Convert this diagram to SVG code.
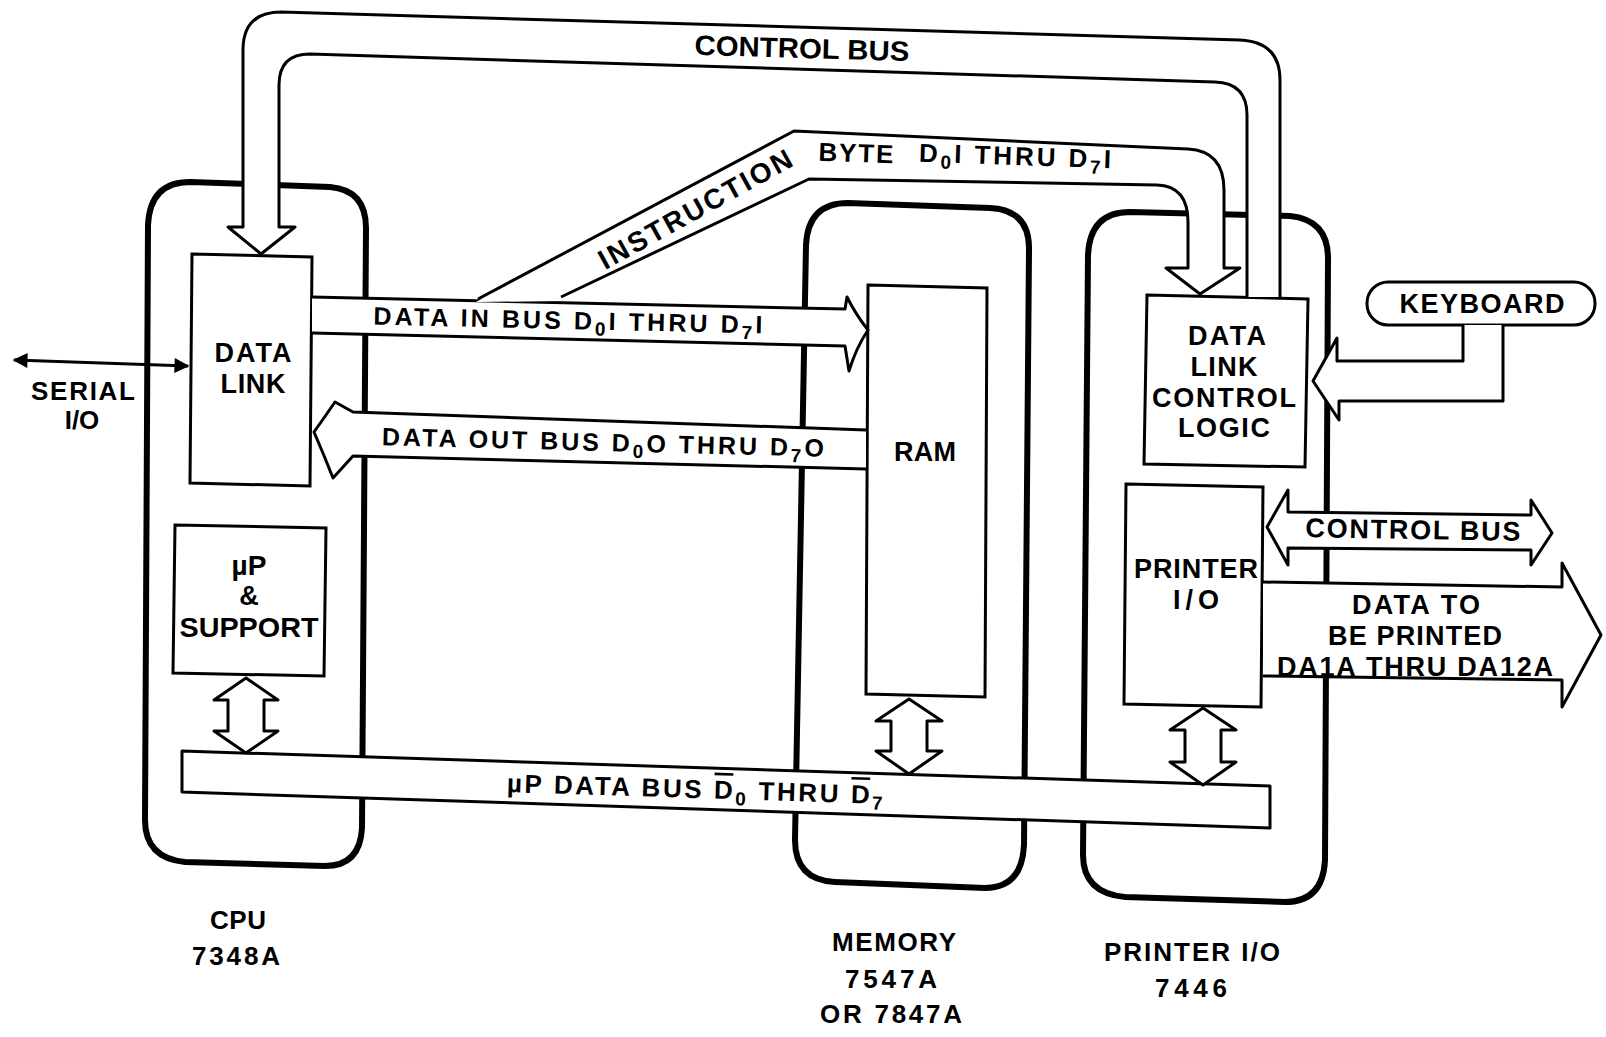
<svg xmlns="http://www.w3.org/2000/svg" width="1606" height="1037" viewBox="0 0 1606 1037">
<style>
.ob{fill:none;stroke:#000;stroke-width:6;stroke-linejoin:round}
.ib{fill:#fff;stroke:#000;stroke-width:3}
.bus{fill:#fff;stroke:#000;stroke-width:3;stroke-linejoin:round}
.nf{fill:#fff;stroke:none}
.ln{fill:none;stroke:#000;stroke-width:3;stroke-linejoin:round}
text{font-family:"Liberation Sans",Arial,sans-serif;font-weight:bold;font-size:27px;fill:#000;text-anchor:middle}
.sub{font-size:19px}
.m{font-size:26px}
.s{font-size:25px}
.l{font-size:28px}
</style>
<defs>
<marker id="ah" viewBox="0 0 10 10" refX="9" refY="5" markerWidth="7" markerHeight="5" orient="auto-start-reverse" markerUnits="strokeWidth"><path d="M0,0 L10,5 L0,10 z" fill="#000"/></marker>
</defs>
<rect width="1606" height="1037" fill="#fff"/>

<g id="cpu">
<path class="ob" d="M148,225 Q150,182 190,182 L330,187 Q366,190 366,228 L362,828 Q360,866 325,866 L185,862 Q145,858 145,820 Z"/>
<text class="m" x="238" y="929" textLength="56">CPU</text>
<text class="m" x="236" y="965" textLength="88">7348A</text>
</g>
<g id="memory">
<path class="ob" d="M806,245 Q808,203 848,203 L990,208 Q1030,210 1029,250 L1024,845 Q1022,888 985,888 L835,882 Q795,880 795,840 Z"/>
<text class="m" x="894" y="951" textLength="124">MEMORY</text>
<text class="m" x="891" y="988" textLength="92">7547A</text>
<text class="m" x="891" y="1023" textLength="142">OR 7847A</text>
</g>
<g id="printer">
<path class="ob" d="M1088,255 Q1090,212 1130,212 L1290,216 Q1328,220 1328,258 L1325,860 Q1323,902 1285,902 L1125,897 Q1083,893 1083,855 Z"/>
<text class="m" x="1192" y="961" textLength="176">PRINTER I/O</text>
<text class="m" x="1191" y="997" textLength="72">7446</text>
</g>
<g id="datalink">
<path class="ib" d="M192,254 L312,257 L310,486 L190,483 Z"/>
<text x="253" y="362" textLength="77">DATA</text>
<text x="253" y="393" textLength="65">LINK</text>
</g>
<g id="upsupport">
<path class="ib" d="M175,525 L326,528 L324,676 L173,673 Z"/>
<text class="l" x="249" y="575">µP</text>
<text x="249" y="605">&amp;</text>
<text class="l" x="249" y="637" textLength="139" lengthAdjust="spacingAndGlyphs">SUPPORT</text>
</g>
<g id="ram">
<path class="ib" d="M868,285 L987,288 L985,697 L866,694 Z"/>
<text x="925" y="461" textLength="62">RAM</text>
</g>
<g id="dlcl">
<path class="ib" d="M1147,295 L1308,299 L1305,467 L1144,464 Z"/>
<text x="1227" y="345" textLength="78">DATA</text>
<text x="1224" y="376" textLength="67">LINK</text>
<text x="1224" y="407" textLength="144">CONTROL</text>
<text x="1224" y="437" textLength="92">LOGIC</text>
</g>
<g id="printerio">
<path class="ib" d="M1126,484 L1263,487 L1261,707 L1124,704 Z"/>
<text x="1196" y="578" textLength="124">PRINTER</text>
<text x="1196" y="609" textLength="46">I/O</text>
</g>
<g id="keyboard">
<rect class="ib" x="1367" y="282" width="228" height="43" rx="21"/>
<text x="1482" y="313" textLength="165">KEYBOARD</text>
</g>
<g id="serial">
<text class="m" x="83" y="400" textLength="104">SERIAL</text>
<text class="m" x="82" y="429">I/O</text>
</g>

<g id="connectors">
<!-- top control bus -->
<path class="bus" d="M1280,297 L1280,80 Q1280,42 1240,40 L281,12 Q243,12 243,50 L243,227 L228,227 L261,254 L295,227 L279,227 L279,85 Q279,54 310,54 L1215,82 Q1247,83 1247,115 L1247,297"/>
<text class="l" x="802" y="58" textLength="215" lengthAdjust="spacingAndGlyphs" transform="rotate(1.7 802 48)">CONTROL BUS</text>

<!-- data in bus -->
<path class="bus" d="M312,297 L845,309 L847,297 Q856,315 868,330 Q856,348 849,371 L845,346 L312,333"/>
<!-- instruction byte bus -->
<path class="nf" d="M476,302 L794,131 L1188,149 Q1224,151 1224,190 L1224,268 L1240,268 L1200,294 L1166,268 L1188,268 L1188,222 Q1188,186 1157,185 L809,179 L563,301 Z"/>
<path class="ln" d="M478,299 L794,131 L1188,149 Q1224,151 1224,190 L1224,268 L1240,268 L1200,294 L1166,268 L1188,268 L1188,222 Q1188,186 1157,185 L809,179 L561,297"/>
<text class="l" x="0" y="10" textLength="217" transform="translate(695 209) rotate(-29)">INSTRUCTION</text>
<text class="m" x="856" y="162" textLength="75" transform="rotate(2 856 153)">BYTE</text>
<text class="m" x="1015" y="165" textLength="192" transform="rotate(2 1015 156)">D<tspan class="sub" dy="6">0</tspan><tspan dy="-6">I THRU D</tspan><tspan class="sub" dy="6">7</tspan><tspan dy="-6">I</tspan></text>
<text class="s" x="568" y="329" textLength="389" transform="rotate(1.3 568 320)">DATA IN BUS  D<tspan class="sub" dy="6">0</tspan><tspan dy="-6">I THRU D</tspan><tspan class="sub" dy="6">7</tspan><tspan dy="-6">I</tspan></text>

<!-- data out bus -->
<path class="bus" d="M866,430 L353,412 L335,402 Q324,418 314,432 Q324,455 333,478 L353,456 L866,469"/>
<text class="s" x="603" y="451" textLength="442" transform="rotate(1.5 603 442)">DATA OUT BUS D<tspan class="sub" dy="6">0</tspan><tspan dy="-6">O THRU D</tspan><tspan class="sub" dy="6">7</tspan><tspan dy="-6">O</tspan></text>

<!-- up data bus -->
<path class="bus" d="M182,751 L1270,786 L1270,828 L182,792 Z"/>
<text class="m" x="695" y="798" textLength="376" transform="rotate(1.8 695 788)">µP DATA BUS <tspan text-decoration="overline">D</tspan><tspan class="sub" dy="6">0</tspan><tspan dy="-6"> THRU </tspan><tspan text-decoration="overline">D</tspan><tspan class="sub" dy="6">7</tspan></text>

<!-- vertical double arrows -->
<path class="bus" d="M246,678 L278,700 L264,700 L264,731 L278,731 L246,753 L214,731 L228,731 L228,700 L214,700 Z"/>
<path class="bus" d="M909,699 L942,721 L927,721 L927,751 L942,751 L909,774 L876,751 L891,751 L891,721 L876,721 Z"/>
<path class="bus" d="M1203,708 L1236,730 L1221,730 L1221,762 L1236,762 L1203,785 L1170,762 L1185,762 L1185,730 L1170,730 Z"/>

<!-- keyboard arrow -->
<path class="bus" d="M1463,325 L1463,361 L1337,361 L1337,338 L1313,381 L1339,420 L1339,401 L1503,401 L1503,325"/>

<!-- right control bus -->
<path class="bus" d="M1267,527 L1288,490 L1288,512 L1531,515 L1531,500 L1552,533 L1531,565 L1531,550 L1288,548 L1288,565 Z"/>
<text x="1413" y="539" textLength="215" transform="rotate(1 1413 529)">CONTROL BUS</text>

<!-- data to be printed -->
<path class="bus" d="M1263,582 L1562,587 L1562,563 L1601,635 L1562,707 L1562,680 L1263,676"/>
<text x="1416" y="614" textLength="128">DATA TO</text>
<text x="1415" y="645" textLength="174">BE PRINTED</text>
<text x="1415" y="676" textLength="276">DA1A THRU DA12A</text>

<!-- serial i/o -->
<line x1="14" y1="360" x2="188" y2="366" stroke="#000" stroke-width="3" marker-start="url(#ah)" marker-end="url(#ah)"/>
</g>
</svg>
